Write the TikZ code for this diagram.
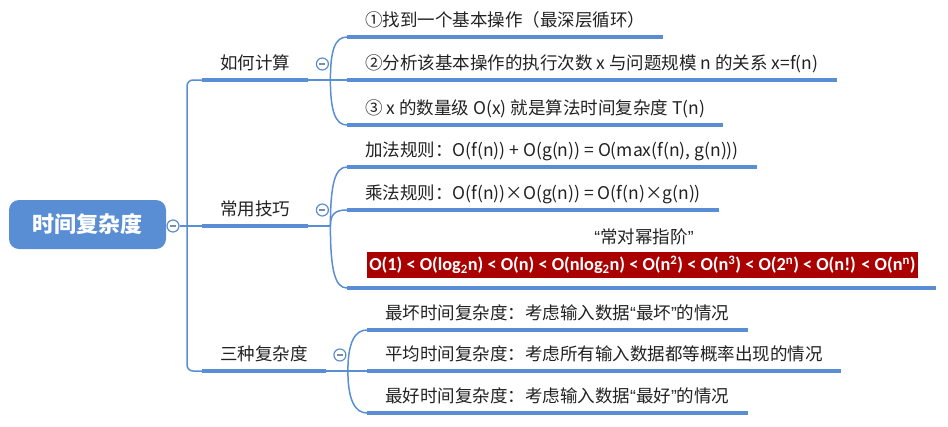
\documentclass[tikz,border=0pt]{standalone}
\usepackage{fontspec}
\setmainfont{Noto Sans CJK SC}
\newfontfamily\calfont{Carlito}
\newfontfamily\quotefont{Liberation Sans}
\newcommand\oquote{{\quotefont“}}
\newcommand\cquote{{\quotefont”}}
\usepackage{xcolor}
\usetikzlibrary{positioning}

\definecolor{mapblue}{RGB}{90,142,212}
\definecolor{mapred}{RGB}{170,0,0}
\definecolor{mapgray}{RGB}{125,140,165}
\definecolor{maptext}{RGB}{34,34,34}

\begin{document}
\begin{tikzpicture}[x=1pt, y=-1pt,
  every node/.style={font=\fontsize{17.5}{21}\selectfont, text=maptext},
  rootbox/.style={fill=mapblue, rounded corners=10pt, minimum width=157pt, minimum height=49pt,
    text=white, font=\fontsize{22}{26}\selectfont\bfseries},
  topic/.style={anchor=south west, inner xsep=18pt, inner ysep=0pt, minimum height=34pt,
    text height=13pt, text depth=0pt},
  collapse/.style={circle, draw=mapblue, fill=white, line width=1.2pt, minimum size=12pt, inner sep=0pt,
    path picture={\draw[mapgray, line width=1.4pt]
      ([xshift=-3pt]path picture bounding box.center) -- ([xshift=3pt]path picture bounding box.center);}},
  orderbox/.style={fill=mapred, text=white, minimum width=551pt, minimum height=26pt, inner sep=0pt,
    font=\calfont\bfseries\fontsize{18.3}{20}\selectfont},
  underline/.style={mapblue, line width=4pt},
  link/.style={mapblue, line width=1.5pt}]

\useasboundingbox (0,0) rectangle (948,426);

% root
\node[rootbox] (root) at (87.5,224.5) {时间复杂度};
\node[collapse] (rootc) at (173,226) {};
\coordinate (trunk) at (187,226);

% branches
\node[topic] (b1) at (202,80) {如何计算};
\node[topic] (b2) at (202,226) {常用技巧};
\node[topic] (b3) at (202,371) {三种复杂度};

\draw[link] (rootc) -- (trunk);
\draw[link, rounded corners=6pt] (b1.south west) -| (trunk) |- (b3.south west);
\draw[link] (trunk) -- (b2.south west);

\foreach \b in {b1,b2,b3} {
  \draw[underline] (\b.south west) -- (\b.south east);
  \coordinate (\b j) at ([xshift=22pt]\b.south east);
  \draw[link] (\b.south east) -- (\b j);
  \node[collapse] (\b c) at ([shift={(14,-16)}]\b.south east) {};
}

% how to compute
\node[topic] (a1) at (347,37) {①找到一个基本操作（最深层循环）};
\node[topic] (a2) at (347,80) {②分析该基本操作的执行次数 x 与问题规模 n 的关系 x=f(n)};
\node[topic] (a3) at (347,125) {③ x 的数量级 O(x) 就是算法时间复杂度 T(n)};

% tricks
\node[topic] (m1) at (347,167) {加法规则：O(f(n)) + O(g(n)) = O(max(f(n), g(n)))};
\node[topic] (m2) at (347,210) {乘法规则：O(f(n))×O(g(n)) = O(f(n)×g(n))};
\node[topic, minimum width=589pt, minimum height=60pt] (m3) at (347,288) {};
\node (m3title) at (644,237) {\oquote 常对幂指阶\cquote};
\node[orderbox] (order) at (642.5,265) {O(1) < O(log\textsubscript{2}n) < O(n) < O(nlog\textsubscript{2}n) < O(n\textsuperscript{2}) < O(n\textsuperscript{3}) < O(2\textsuperscript{n}) < O(n!) < O(n\textsuperscript{n})};

% three cases
\node[topic] (w1) at (367,330) {最坏时间复杂度：考虑输入数据\oquote 最坏\cquote 的情况};
\node[topic] (w2) at (367,371) {平均时间复杂度：考虑所有输入数据都等概率出现的情况};
\node[topic] (w3) at (367,413) {最好时间复杂度：考虑输入数据\oquote 最好\cquote 的情况};

\foreach \n in {a1,a2,a3,m1,m2,m3,w1,w2,w3}
  \draw[underline] (\n.south west) -- (\n.south east);

\draw[link] (b1j) .. controls +(0,-30) and +(-12,0) .. (a1.south west);
\draw[link] (b1j) -- (a2.south west);
\draw[link] (b1j) .. controls +(0,30) and +(-12,0) .. (a3.south west);

\draw[link] (b2j) .. controls +(0,-42) and +(-12,0) .. (m1.south west);
\draw[link] (b2j) .. controls +(0,-12) and +(-12,0) .. (m2.south west);
\draw[link] (b2j) .. controls +(0,44) and +(-12,0) .. (m3.south west);

\draw[link] (b3j) .. controls +(0,-29) and +(-12,0) .. (w1.south west);
\draw[link] (b3j) -- (w2.south west);
\draw[link] (b3j) .. controls +(0,29) and +(-12,0) .. (w3.south west);
\end{tikzpicture}
\end{document}
